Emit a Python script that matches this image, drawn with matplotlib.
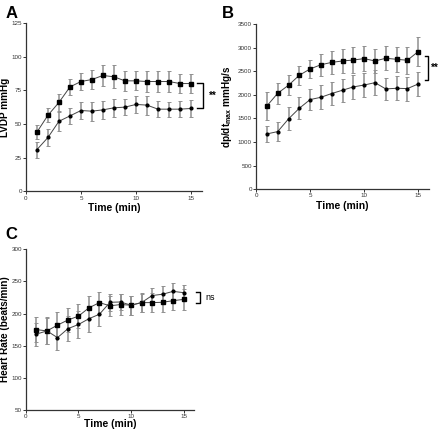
import numpy as np
import matplotlib
matplotlib.use("Agg")
import matplotlib.pyplot as plt

plt.rcParams['font.family'] = ['Liberation Sans', 'DejaVu Sans']
plt.rcParams['mathtext.fontset'] = 'custom'
plt.rcParams['mathtext.rm'] = 'Liberation Sans'
plt.rcParams['mathtext.bf'] = 'Liberation Sans:bold'

t = np.arange(1, 16)

# panel A: LVDP
lvdp_sq = [44, 56.5, 66, 77.5, 81.5, 83, 86, 85, 82, 82, 81.5, 81.5, 81.5, 80, 80]
lvdp_sq_err = [5, 5, 6, 6, 6, 7, 8, 8.5, 7.5, 7, 7.5, 7.5, 7.5, 7, 7]
lvdp_ci = [31, 40, 52, 56, 60, 59.5, 60.5, 62, 62.5, 64.5, 64, 61, 61, 61, 61.5]
lvdp_ci_err = [6, 6, 7, 6, 6.5, 7, 6.5, 6.5, 6, 6.5, 7, 6, 5.5, 6, 6]

# panel B: dp/dt max
dpdt_sq = [1766, 2035, 2205, 2417, 2551, 2640, 2690, 2720, 2740, 2770, 2720, 2777, 2756, 2735, 2919]
dpdt_sq_err = [295, 225, 210, 200, 200, 230, 240, 260, 270, 270, 260, 255, 270, 290, 310]
dpdt_ci = [1173, 1222, 1491, 1717, 1901, 1950, 2030, 2100, 2170, 2210, 2260, 2127, 2141, 2134, 2232]
dpdt_ci_err = [165, 205, 245, 237, 220, 250, 240, 240, 250, 250, 260, 240, 255, 255, 247]

# panel C: heart rate
hr_sq = [175, 173, 182, 190, 196, 209, 217, 212, 214, 213, 217, 217, 217.5, 220, 222]
hr_sq_err = [20, 21, 20, 19, 19, 18, 17, 16, 16, 15, 15, 15, 15, 15, 16]
hr_ci = [168, 173, 162.5, 176.5, 183, 192, 199, 217.5, 218, 213, 217, 228, 230, 234.5, 232.5]
hr_ci_err = [18, 20, 19, 19, 21, 20, 19, 13, 13, 15, 14, 12, 13, 13, 12]

fig = plt.figure(figsize=(4.4, 4.32), dpi=100)
axA = fig.add_axes([0.059, 0.557, 0.400, 0.390])
axB = fig.add_axes([0.582, 0.562, 0.393, 0.382])
axC = fig.add_axes([0.059, 0.051, 0.382, 0.372])


def draw(ax, y1, e1, y2, e2):
    for y, e, m, ms in [(y1, e1, 's', 2.4), (y2, e2, 'o', 2.0)]:
        ax.errorbar(t, y, yerr=e, fmt='none', ecolor='#909090', elinewidth=1.1,
                    capsize=1.6, capthick=0.7, zorder=1)
        ax.plot(t, y, color='#444444', lw=0.7, marker=m, ms=ms,
                mfc='black', mec='black', zorder=2)
    for s in ['top', 'right']:
        ax.spines[s].set_visible(False)
    for s in ['left', 'bottom']:
        ax.spines[s].set_linewidth(0.9)
        ax.spines[s].set_color('#333333')
    ax.tick_params(length=2, width=0.7, labelsize=4.5, pad=1, colors='#333333')
    ax.set_xlim(0, 16)
    ax.set_xticks([0, 5, 10, 15])
    ax.set_xlabel('Time (min)', fontsize=7.5, fontweight='bold', labelpad=2)


def bracket(ax, x0, x1, ytop, ybot, label, tx, ty, fs):
    ax.plot([x0, x1, x1, x0], [ytop, ytop, ybot, ybot], color='black', lw=1.0,
            clip_on=False)
    ax.text(tx, ty, label, fontsize=fs, fontweight='bold' if label != 'ns' else 'normal',
            ha='center', va='center', clip_on=False)


draw(axA, lvdp_sq, lvdp_sq_err, lvdp_ci, lvdp_ci_err)
axA.set_ylim(0, 125)
axA.set_yticks([0, 25, 50, 75, 100, 125])
axA.set_ylabel('LVDP mmHg', fontsize=7.2, fontweight='bold')
axA.yaxis.set_label_coords(-0.088, 0.5)
bracket(axA, 15.55, 16.1, 80.1, 61.8, '**', 16.95, 70.9, 7)

draw(axB, dpdt_sq, dpdt_sq_err, dpdt_ci, dpdt_ci_err)
axB.set_ylim(0, 3500)
axB.set_yticks(np.arange(0, 3501, 500))
axB.set_ylabel(r'dp/dt$_{\mathbf{max}}$ mmHg/s', fontsize=7.2, fontweight='bold')
axB.yaxis.set_label_coords(-0.128, 0.5)
bracket(axB, 15.6, 15.9, 2834, 2325, '**', 16.55, 2580, 7)

draw(axC, hr_sq, hr_sq_err, hr_ci, hr_ci_err)
axC.set_ylim(50, 300)
axC.set_yticks(np.arange(50, 301, 50))
axC.set_ylabel('Heart Rate (beats/min)', fontsize=7.2, fontweight='bold')
axC.yaxis.set_label_coords(-0.092, 0.5)
axC.xaxis.labelpad = 0
bracket(axC, 16.2, 16.6, 233, 217, 'ns', 17.5, 225, 6.5)

fig.text(0.012, 0.985, 'A', fontsize=12, fontweight='bold', va='top')
fig.text(0.505, 0.985, 'B', fontsize=12, fontweight='bold', va='top')
fig.text(0.012, 0.475, 'C', fontsize=12, fontweight='bold', va='top')

fig.savefig('out.png', dpi=100)
